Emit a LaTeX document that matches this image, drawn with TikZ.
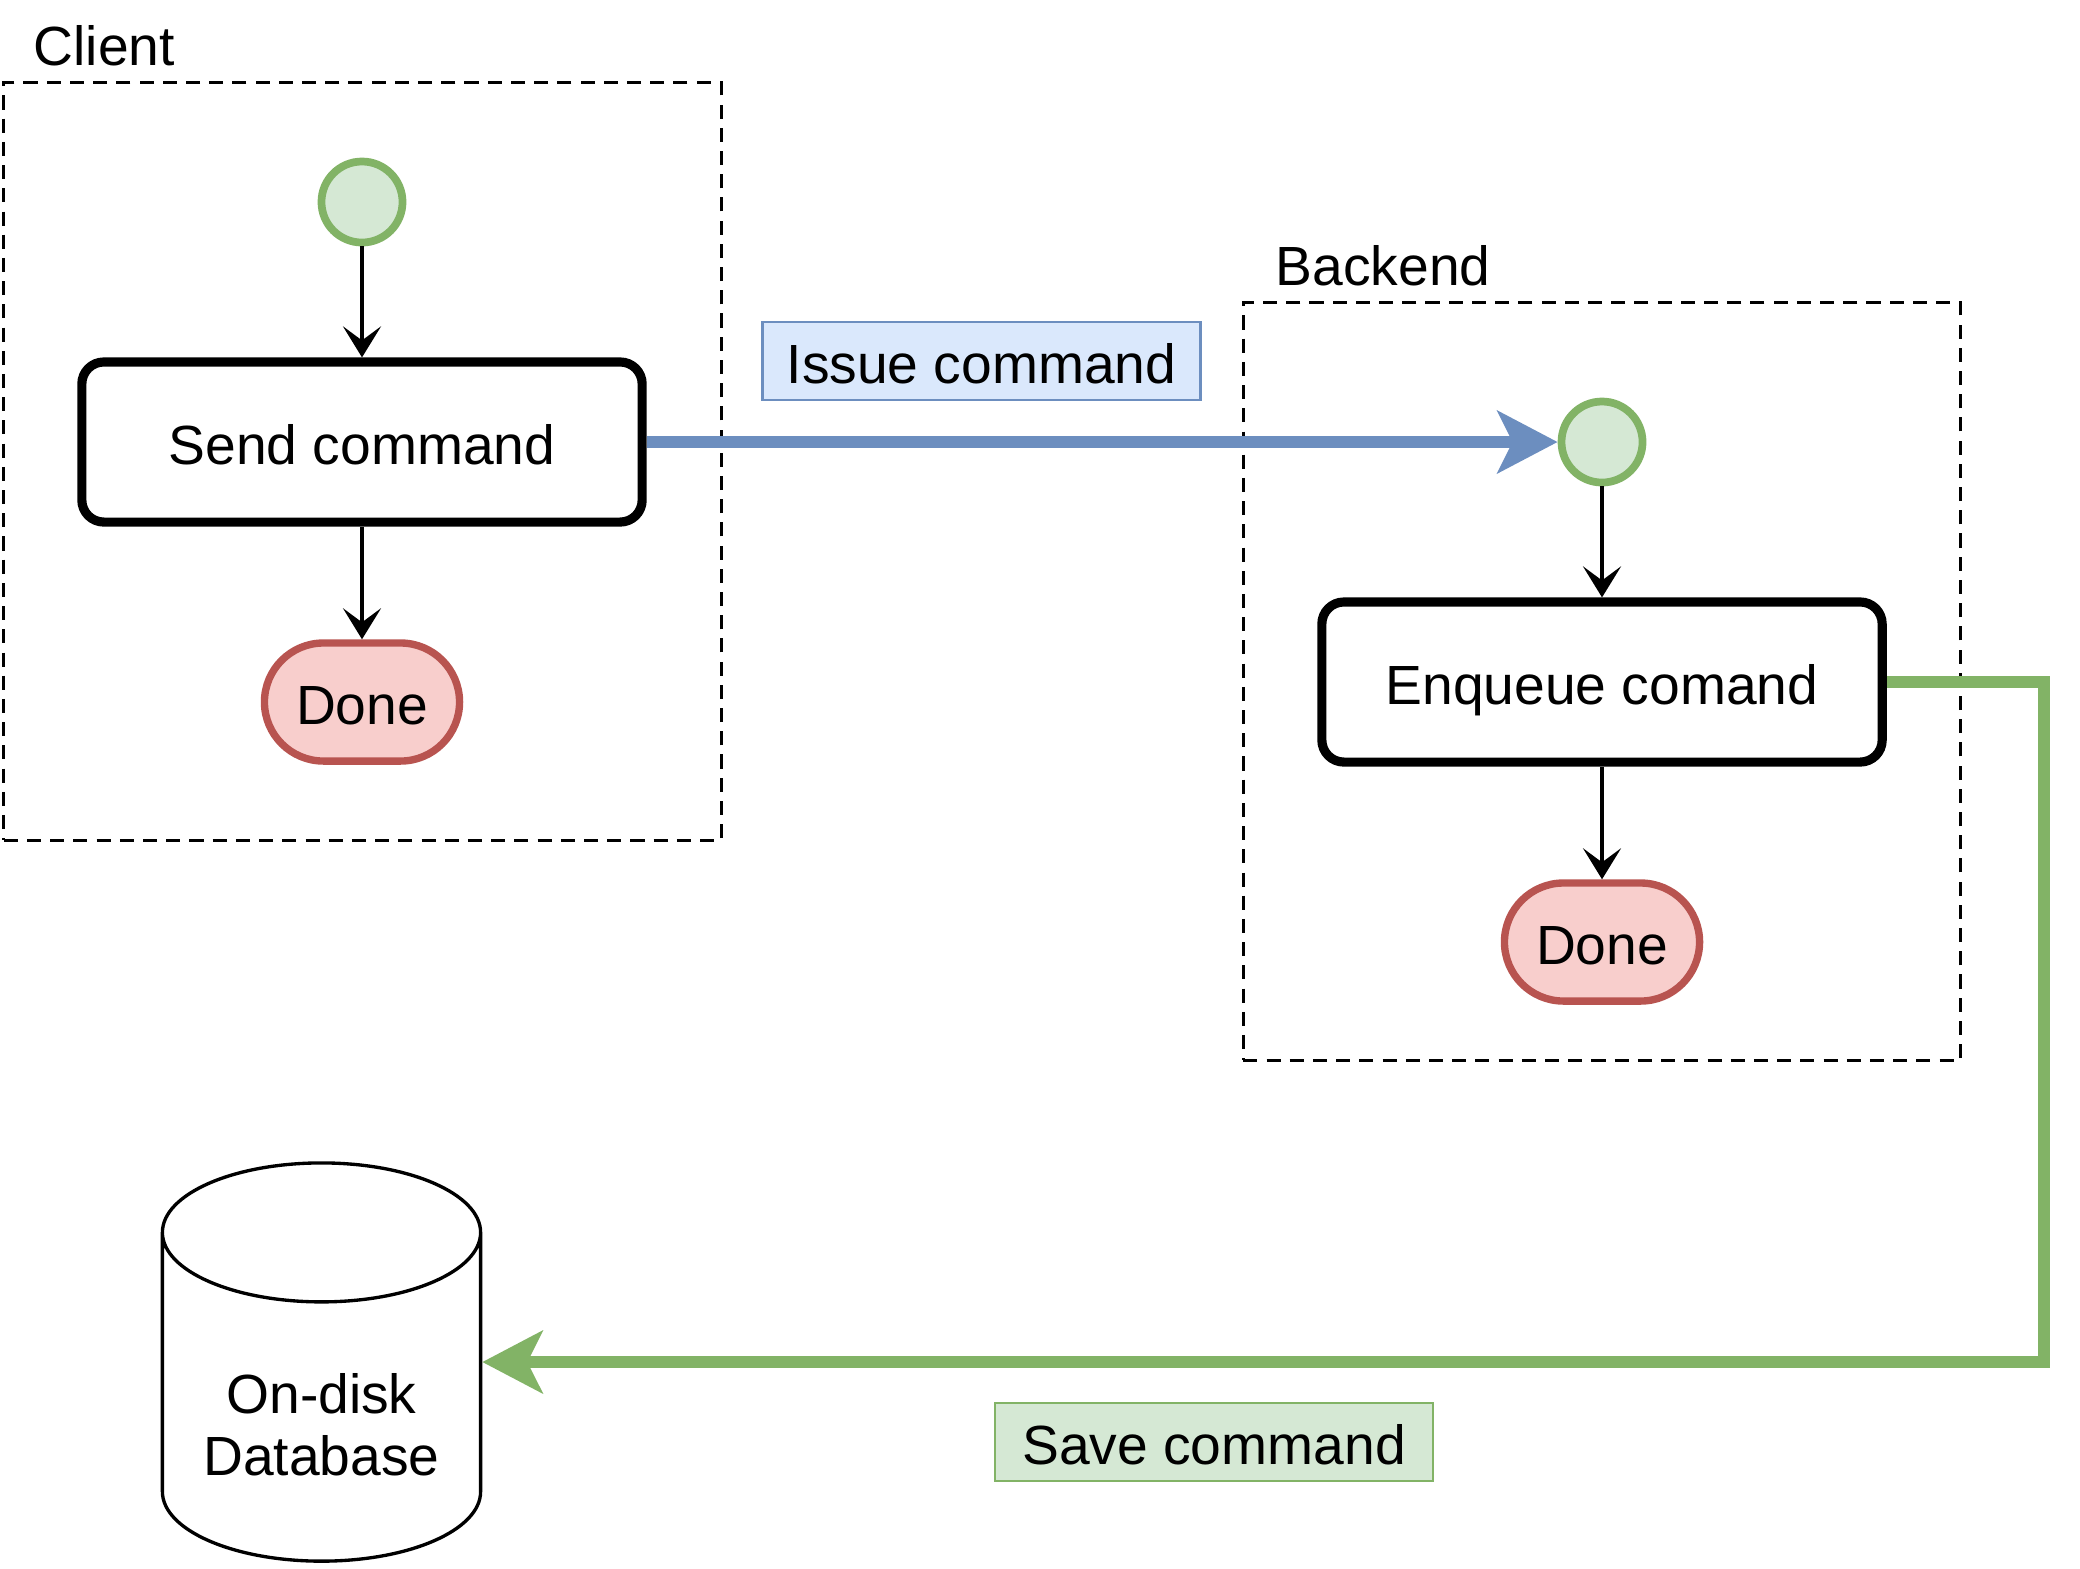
\documentclass[tikz,border=0pt]{standalone}
\usepackage{fontspec}
\setmainfont{Liberation Sans}
\usetikzlibrary{arrows.meta,shapes.geometric}
\definecolor{startfill}{HTML}{D5E8D4}
\definecolor{startline}{HTML}{82B366}
\definecolor{donefill}{HTML}{F8CECC}
\definecolor{doneline}{HTML}{B85450}
\definecolor{issuefill}{HTML}{DAE8FC}
\definecolor{issueline}{HTML}{6C8EBF}
\begin{document}
\begin{tikzpicture}[x=0.01cm, y=-0.01cm,
    every node/.style={font=\fontsize{15.7pt}{17.6pt}\selectfont, inner sep=0pt},
    txt/.style={text height=12.5pt, text depth=0pt},
    frame/.style={draw, line width=0.9pt, dash pattern=on 4pt off 2.6pt, minimum width=7.17cm, minimum height=7.57cm},
    startnode/.style={circle, draw=startline, fill=startfill, line width=2.2pt, minimum size=0.81cm},
    actbox/.style={txt, draw, line width=2.6pt, rounded corners=0.22cm, minimum width=5.6cm, minimum height=1.6cm},
    donebox/.style={txt, draw=doneline, fill=donefill, line width=2.1pt, rounded corners=0.59cm, minimum width=1.95cm, minimum height=1.18cm},
    tag/.style={txt, line width=0.7pt, minimum width=4.38cm, minimum height=0.78cm},
    flow/.style={-{Stealth[length=0.31cm, width=0.38cm, inset=0.14cm]}, line width=1.05pt},
    bigflow/.style={-{Stealth[length=0.6cm, width=0.62cm, inset=0.15cm]}, line width=3.3pt}]
  \useasboundingbox (0,0) rectangle (2080,1568);

  % client side
  \node[frame] (clientbox) at (362.5,461.5) {};
  \node[anchor=base west] (clientlbl) at (33,65) {Client};
  \node[startnode] (cstart) at (362,202) {};
  \node[actbox] (send) at (362,442) {Send command};
  \node[donebox] (cdone) at (362,702) {Done};
  \draw[flow] (cstart) -- (send);
  \draw[flow] (send) -- (cdone);

  % backend side
  \node[frame] (backbox) at (1602,681.5) {};
  \node[anchor=base west] (backlbl) at (1275,285) {Backend};
  \node[startnode] (bstart) at (1602,442) {};
  \node[actbox] (enq) at (1602,682) {Enqueue comand};
  \node[donebox] (bdone) at (1602,942) {Done};
  \draw[flow] (bstart) -- (enq);
  \draw[flow] (enq) -- (bdone);

  % database
  \node[cylinder, draw, fill=white, line width=0.95pt, shape border rotate=90, aspect=0.588,
        minimum width=3.18cm, minimum height=3.98cm, align=center, text height=44.4pt, text depth=0pt,
        anchor=shape center] (db) at (321.5,1362) {On-disk\\Database};

  % messages
  \draw[bigflow, draw=issueline] (send) -- (bstart);
  \node[tag, draw=issueline, fill=issuefill] (issue) at (981.5,361) {Issue command};
  %\draw[bigflow, draw=startline] (enq.east) -- (2043,682) -- (2043,1361) -- (480,1361);
  \draw[bigflow, draw=startline] (enq.east) -- ++(157,0) |- (db.shape center -| db.east);
  \node[tag, draw=startline, fill=startfill] (save) at (1214,1442) {Save command};
\end{tikzpicture}
\end{document}
